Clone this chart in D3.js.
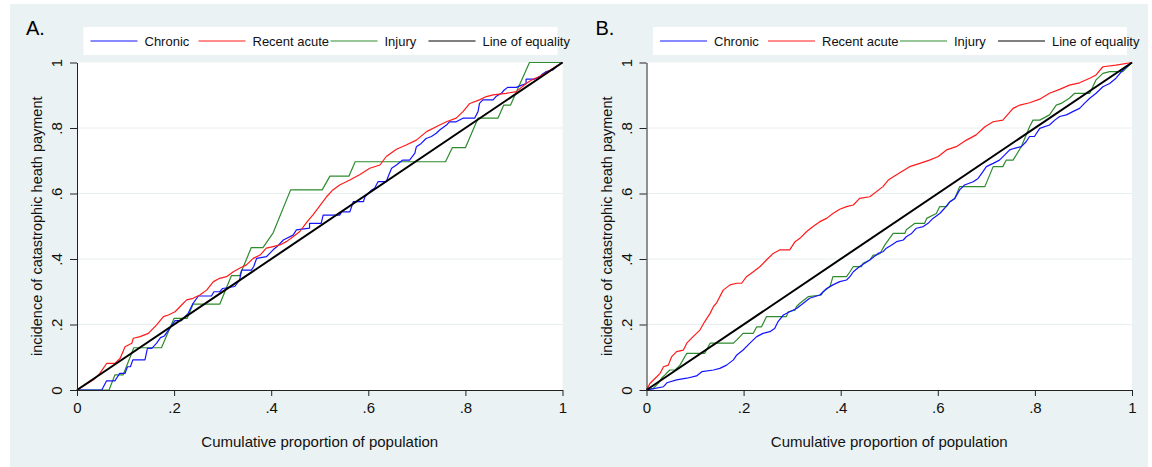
<!DOCTYPE html>
<html>
<head>
<meta charset="utf-8">
<title>Concentration curves</title>
<script src="https://d3js.org/d3.v7.min.js"></script>
<style>
  body { margin: 0; background: #fff; }
  svg { display: block; font-family: "Liberation Sans", Arial, Helvetica, sans-serif; }
  .grid line { stroke: #e6eef0; stroke-width: 1; }
  .axis path, .axis line { stroke: #222; stroke-width: 1; }
  .axis text { fill: #111; }
</style>
</head>
<body>
<div id="chart"></div>
<script>
// tick values and their labels (shared by both axes)
var tickValues = [0, 0.2, 0.4, 0.6, 0.8, 1];
var tickLabels = ["0", ".2", ".4", ".6", ".8", "1"];

var seriesNames = ["Chronic", "Recent acute", "Injury", "Line of equality"];
var panelLabels = ["A.", "B."];
var yTitle = "incidence of catastrophic heath payment";
var xTitle = "Cumulative proportion of population";

// line of equality
var equality = [[0, 0], [1, 1]];

// Panel A: [cumulative proportion of population, cumulative incidence]
var chronicA = [[0,0],[0.051,0],[0.061,0.028],[0.078,0.028],[0.088,0.051],[0.099,0.051],[0.104,0.071],[0.110,0.071],[0.115,0.092],[0.140,0.092],[0.145,0.127],[0.154,0.127],[0.164,0.143],[0.172,0.160],[0.180,0.165],[0.191,0.188],[0.202,0.212],[0.215,0.212],[0.229,0.234],[0.238,0.262],[0.250,0.287],[0.277,0.287],[0.282,0.300],[0.294,0.300],[0.300,0.310],[0.325,0.316],[0.335,0.336],[0.339,0.366],[0.359,0.366],[0.364,0.377],[0.370,0.402],[0.390,0.407],[0.404,0.428],[0.412,0.438],[0.425,0.458],[0.445,0.473],[0.452,0.489],[0.479,0.494],[0.479,0.509],[0.503,0.509],[0.507,0.534],[0.541,0.534],[0.545,0.544],[0.562,0.544],[0.569,0.575],[0.590,0.575],[0.593,0.590],[0.607,0.611],[0.613,0.616],[0.620,0.636],[0.637,0.636],[0.641,0.652],[0.648,0.677],[0.658,0.687],[0.671,0.702],[0.685,0.702],[0.696,0.723],[0.699,0.743],[0.709,0.753],[0.719,0.768],[0.730,0.774],[0.740,0.784],[0.747,0.794],[0.761,0.809],[0.767,0.819],[0.781,0.819],[0.795,0.830],[0.819,0.830],[0.826,0.850],[0.829,0.875],[0.836,0.886],[0.857,0.886],[0.863,0.896],[0.874,0.906],[0.880,0.916],[0.887,0.924],[0.905,0.924],[0.911,0.928],[0.925,0.936],[0.925,0.949],[0.942,0.949],[0.953,0.957],[0.959,0.965],[0.966,0.972],[0.980,0.977],[0.987,0.987],[1,1]];
var recentA = [[0,0],[0.034,0.031],[0.047,0.051],[0.061,0.081],[0.078,0.081],[0.089,0.097],[0.099,0.132],[0.113,0.143],[0.116,0.158],[0.130,0.163],[0.147,0.173],[0.164,0.199],[0.178,0.224],[0.188,0.229],[0.202,0.239],[0.219,0.265],[0.226,0.275],[0.239,0.280],[0.253,0.290],[0.267,0.305],[0.281,0.331],[0.294,0.341],[0.308,0.346],[0.322,0.361],[0.335,0.372],[0.349,0.382],[0.363,0.402],[0.377,0.412],[0.390,0.433],[0.404,0.438],[0.418,0.443],[0.431,0.453],[0.445,0.468],[0.459,0.484],[0.473,0.512],[0.486,0.535],[0.500,0.562],[0.514,0.590],[0.527,0.611],[0.541,0.626],[0.562,0.641],[0.582,0.657],[0.603,0.677],[0.624,0.687],[0.637,0.713],[0.658,0.735],[0.678,0.748],[0.699,0.763],[0.720,0.789],[0.747,0.809],[0.761,0.819],[0.781,0.830],[0.795,0.850],[0.809,0.875],[0.829,0.886],[0.843,0.896],[0.857,0.901],[0.884,0.906],[0.905,0.911],[0.925,0.936],[0.939,0.949],[0.953,0.957],[0.980,0.982],[1,1]];
var injuryA = [[0,0],[0.066,0],[0.078,0.046],[0.095,0.046],[0.117,0.129],[0.174,0.129],[0.200,0.219],[0.227,0.219],[0.239,0.262],[0.294,0.262],[0.318,0.349],[0.335,0.349],[0.359,0.435],[0.383,0.435],[0.404,0.480],[0.440,0.611],[0.505,0.611],[0.521,0.653],[0.560,0.653],[0.573,0.697],[0.759,0.697],[0.773,0.740],[0.800,0.740],[0.826,0.830],[0.867,0.830],[0.879,0.870],[0.893,0.870],[0.932,1],[1,1]];

// Panel B
var chronicB = [[0,0],[0.018,0.005],[0.035,0.010],[0.042,0.022],[0.062,0.031],[0.083,0.036],[0.103,0.043],[0.114,0.056],[0.138,0.061],[0.151,0.066],[0.165,0.076],[0.179,0.092],[0.186,0.107],[0.199,0.122],[0.213,0.143],[0.227,0.163],[0.240,0.173],[0.254,0.178],[0.264,0.188],[0.271,0.209],[0.282,0.229],[0.295,0.239],[0.309,0.249],[0.323,0.265],[0.336,0.280],[0.357,0.290],[0.371,0.310],[0.384,0.321],[0.398,0.331],[0.412,0.336],[0.419,0.346],[0.426,0.361],[0.439,0.377],[0.460,0.397],[0.477,0.417],[0.487,0.422],[0.494,0.433],[0.505,0.443],[0.515,0.453],[0.529,0.458],[0.535,0.468],[0.546,0.478],[0.556,0.494],[0.570,0.499],[0.580,0.509],[0.590,0.524],[0.604,0.539],[0.614,0.555],[0.625,0.575],[0.635,0.585],[0.645,0.611],[0.655,0.626],[0.673,0.636],[0.683,0.646],[0.693,0.667],[0.700,0.682],[0.714,0.692],[0.727,0.702],[0.738,0.718],[0.748,0.733],[0.758,0.738],[0.772,0.743],[0.782,0.758],[0.789,0.774],[0.799,0.774],[0.810,0.799],[0.830,0.809],[0.841,0.824],[0.851,0.835],[0.865,0.840],[0.878,0.850],[0.892,0.860],[0.902,0.875],[0.913,0.891],[0.926,0.906],[0.940,0.926],[0.954,0.936],[0.967,0.952],[0.981,0.977],[1,1]];
var recentB = [[0,0],[0.007,0.020],[0.018,0.036],[0.028,0.051],[0.035,0.071],[0.045,0.076],[0.052,0.102],[0.062,0.117],[0.076,0.122],[0.083,0.143],[0.096,0.163],[0.110,0.183],[0.120,0.209],[0.131,0.234],[0.138,0.255],[0.144,0.265],[0.158,0.305],[0.172,0.321],[0.186,0.326],[0.196,0.326],[0.206,0.346],[0.220,0.361],[0.234,0.377],[0.247,0.397],[0.261,0.417],[0.275,0.428],[0.295,0.428],[0.306,0.453],[0.316,0.463],[0.330,0.484],[0.343,0.499],[0.357,0.514],[0.371,0.524],[0.384,0.539],[0.398,0.552],[0.412,0.560],[0.426,0.565],[0.439,0.585],[0.460,0.590],[0.487,0.621],[0.498,0.641],[0.515,0.657],[0.542,0.682],[0.563,0.692],[0.583,0.702],[0.601,0.713],[0.618,0.733],[0.638,0.743],[0.659,0.763],[0.679,0.779],[0.697,0.804],[0.714,0.819],[0.734,0.824],[0.755,0.860],[0.769,0.870],[0.789,0.877],[0.810,0.888],[0.830,0.906],[0.851,0.918],[0.871,0.931],[0.892,0.938],[0.913,0.952],[0.926,0.962],[0.940,0.987],[0.967,0.992],[1,1]];
var injuryB = [[0,0],[0.014,0.005],[0.024,0.020],[0.031,0.036],[0.038,0.046],[0.048,0.061],[0.059,0.061],[0.069,0.076],[0.083,0.112],[0.120,0.112],[0.131,0.143],[0.179,0.143],[0.186,0.153],[0.199,0.173],[0.220,0.173],[0.227,0.193],[0.237,0.193],[0.247,0.224],[0.288,0.224],[0.292,0.239],[0.306,0.244],[0.309,0.255],[0.316,0.265],[0.333,0.285],[0.360,0.290],[0.364,0.300],[0.378,0.316],[0.384,0.346],[0.412,0.346],[0.419,0.361],[0.426,0.377],[0.443,0.377],[0.446,0.387],[0.460,0.397],[0.467,0.412],[0.474,0.412],[0.481,0.417],[0.491,0.443],[0.508,0.478],[0.532,0.478],[0.535,0.489],[0.553,0.509],[0.573,0.509],[0.577,0.524],[0.597,0.539],[0.604,0.560],[0.618,0.560],[0.625,0.575],[0.635,0.585],[0.645,0.621],[0.697,0.621],[0.714,0.682],[0.734,0.682],[0.741,0.702],[0.755,0.702],[0.772,0.743],[0.789,0.804],[0.796,0.824],[0.810,0.824],[0.830,0.840],[0.844,0.870],[0.854,0.875],[0.871,0.891],[0.882,0.906],[0.913,0.906],[0.926,0.947],[0.940,0.967],[0.954,0.972],[0.981,0.972],[1,1]];

var colors = ["#1414ff", "#ff1a1a", "#2e8b2e", "#000000"];
var widths = [1.2, 1.2, 1.2, 2];

var W = 1152, H = 467;
var svg = d3.select("#chart").append("svg")
    .attr("width", W).attr("height", H);

// Stata-like outer background
svg.append("rect")
    .attr("x", 10).attr("y", 4)
    .attr("width", 1138).attr("height", H - 4)
    .attr("fill", "#eaf2f3");

function drawPanel(offsetX, label, series) {
    var plotW = 485.5, top = 62.5, bottom = 390;
    var x = d3.scaleLinear().domain([0, 1]).range([offsetX, offsetX + plotW]);
    var y = d3.scaleLinear().domain([0, 1]).range([bottom, top]);

    // plot region
    svg.append("rect")
        .attr("x", x(0)).attr("y", y(1))
        .attr("width", x(1) - x(0)).attr("height", y(0) - y(1))
        .attr("fill", "#fff");

    // gridlines
    svg.append("g").attr("class", "grid")
        .selectAll("line")
        .data(tickValues.filter(function (d) { return d > 0 && d < 1; }))
        .enter().append("line")
        .attr("x1", x(0)).attr("x2", x(1))
        .attr("y1", function (d) { return y(d); })
        .attr("y2", function (d) { return y(d); });

    // curves
    var line = d3.line()
        .x(function (d) { return x(d[0]); })
        .y(function (d) { return y(d[1]); });
    var order = [2, 0, 1, 3];
    order.forEach(function (i) {
        svg.append("path")
            .datum(series[i])
            .attr("d", line)
            .attr("fill", "none")
            .attr("stroke", colors[i])
            .attr("stroke-width", widths[i])
            .attr("stroke-linejoin", "round");
    });

    // axes
    svg.append("g").attr("class", "axis")
        .attr("transform", "translate(0," + bottom + ")")
        .call(d3.axisBottom(x).tickValues(tickValues)
            .tickFormat(function (d, i) { return tickLabels[i]; })
            .tickSize(6).tickSizeOuter(0).tickPadding(6))
        .selectAll("text").attr("font-size", 15);

    var ya = svg.append("g").attr("class", "axis")
        .attr("transform", "translate(" + x(0) + ",0)")
        .call(d3.axisLeft(y).tickValues(tickValues)
            .tickFormat(function (d, i) { return tickLabels[i]; })
            .tickSize(7).tickSizeOuter(0));
    ya.selectAll(".tick text")
        .attr("x", null).attr("dy", null)
        .attr("font-size", 15)
        .attr("text-anchor", "middle")
        .attr("transform", "translate(-15,0) rotate(-90)");

    // axis titles
    svg.append("text")
        .attr("x", (x(0) + x(1)) / 2).attr("y", 447)
        .attr("text-anchor", "middle")
        .attr("font-size", 15).attr("fill", "#111")
        .text(xTitle);
    svg.append("text")
        .attr("transform", "translate(" + (offsetX - 35) + "," + ((y(0) + y(1)) / 2) + ") rotate(-90)")
        .attr("text-anchor", "middle")
        .attr("font-size", 14.5).attr("fill", "#111")
        .text(yTitle);

    // panel label
    svg.append("text")
        .attr("x", offsetX - 51).attr("y", 35)
        .attr("font-size", 20).attr("fill", "#000")
        .text(label);

    // legend
    var lx = offsetX + 6.5;
    svg.append("rect")
        .attr("x", lx).attr("y", 27)
        .attr("width", 474).attr("height", 28)
        .attr("fill", "#fff");
    var lineStart = [7, 115, 247, 345];
    seriesNames.forEach(function (name, i) {
        svg.append("line")
            .attr("x1", lx + lineStart[i]).attr("x2", lx + lineStart[i] + 47)
            .attr("y1", 41).attr("y2", 41)
            .attr("stroke", colors[i]).attr("stroke-width", 1);
        svg.append("text")
            .attr("x", lx + lineStart[i] + 54).attr("y", 46)
            .attr("font-size", 13).attr("fill", "#111")
            .text(name);
    });
}

drawPanel(77, panelLabels[0], [chronicA, recentA, injuryA, equality]);
drawPanel(646.5, panelLabels[1], [chronicB, recentB, injuryB, equality]);
</script>
</body>
</html>
